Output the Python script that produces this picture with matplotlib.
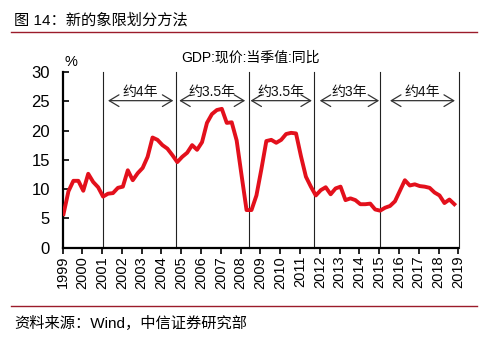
import matplotlib
matplotlib.use("Agg")
import matplotlib.pyplot as plt
import numpy as np

plt.rcParams['font.family'] = ['Liberation Sans', 'Noto Sans CJK SC', 'DejaVu Sans']

title = "图 14：新的象限划分方法"
source = "资料来源：Wind，中信证券研究部"
series_name = "GDP:现价:当季值:同比"

start_year = 1999.05
gdp = [5.7, 9.6, 11.4, 11.4, 9.7, 12.6, 11.2, 10.3,
       8.7, 9.2, 9.3, 10.2, 10.4, 13.2, 11.5, 12.7,
       13.6, 15.5, 18.8, 18.4, 17.5, 16.9, 15.8, 14.6,
       15.5, 16.2, 17.5, 16.7, 18.0, 21.3, 22.8, 23.5,
       23.7, 21.3, 21.4, 18.3, 12.3, 6.4, 6.4, 8.9,
       13.4, 18.2, 18.4, 17.9, 18.4, 19.4, 19.6, 19.5,
       15.6, 12.1, 10.4, 8.9, 9.8, 10.3, 9.1, 10.1,
       10.4, 8.1, 8.4, 8.1, 7.4, 7.4, 7.5, 6.5,
       6.3, 6.8, 7.1, 7.9, 9.7, 11.5, 10.6, 10.8,
       10.5, 10.4, 10.2, 9.4, 8.9, 7.6, 8.2, 7.4]

year_ticks = list(range(1999, 2020))
y_ticks = [0, 5, 10, 15, 20, 25, 30]
boundaries = [2001.07, 2004.73, 2008.4, 2011.73, 2015.05, 2019.03]
arrow_spans = [(2001.3, 2004.6), (2004.9, 2008.23), (2008.5, 2011.6),
               (2012.0, 2015.0), (2015.55, 2018.83)]
arrow_labels = ["约4年", "约3.5年", "约3.5年", "约3年", "约4年"]
arrow_y = 25.1
label_y = 26.6

W, H = 490, 343
fig = plt.figure(figsize=(W / 100, H / 100), dpi=100)
fig.patch.set_facecolor('white')

ax = fig.add_axes([62.5 / W, 1 - 247.5 / H, (458.3 - 62.5) / W, (247.5 - 72) / H])
x = start_year + 0.25 * np.arange(len(gdp))
ax.plot(x, gdp, color='#e3101c', lw=2.8, solid_joinstyle='round', zorder=3)

for b in boundaries:
    ax.plot([b, b], [0, 30], color='#222222', lw=0.8, zorder=2, clip_on=False)

for (a0, a1), lab in zip(arrow_spans, arrow_labels):
    ax.annotate('', xy=(a0, arrow_y), xytext=(a1, arrow_y),
                arrowprops=dict(arrowstyle='<->,head_length=0.5,head_width=0.3',
                                color='#333333', lw=0.9,
                                mutation_scale=14, shrinkA=0, shrinkB=0))
    ax.text((a0 + a1) / 2, label_y, lab, ha='center', va='center', fontsize=10,
            color='#111111')

ax.set_xlim(1999, 2019)
ax.set_ylim(0, 30)
ax.set_xticks(year_ticks)
ax.set_xticklabels([str(y) for y in year_ticks], rotation=90, fontsize=10.5)
ax.set_yticks(y_ticks)
ax.set_yticklabels([str(v) for v in y_ticks], fontsize=12)
for s in ['top', 'right']:
    ax.spines[s].set_visible(False)
for s in ['left', 'bottom']:
    ax.spines[s].set_linewidth(1.6)
    ax.spines[s].set_color('black')
ax.tick_params(axis='y', direction='in', length=4, width=1.2, pad=9)
ax.tick_params(axis='x', direction='out', length=4, width=1.2, pad=2)

fig.text(64 / W, 1 - 62 / H, '%', fontsize=10.5, ha='left', va='center')
fig.text(250 / W, 1 - 58 / H, series_name, fontsize=10, ha='center', va='center')

fig.text(14 / W, 1 - 20 / H, title, fontsize=11, ha='left', va='center')
fig.add_artist(plt.Line2D([11 / W, 477 / W], [1 - 32 / H, 1 - 32 / H],
                          color='#9b1b2a', lw=1.0))
fig.add_artist(plt.Line2D([11 / W, 477 / W], [1 - 306 / H, 1 - 306 / H],
                          color='#9b1b2a', lw=1.0))
fig.text(14 / W, 1 - 323 / H, source, fontsize=11, ha='left', va='center')

fig.savefig('out.png', dpi=100, facecolor='white')
